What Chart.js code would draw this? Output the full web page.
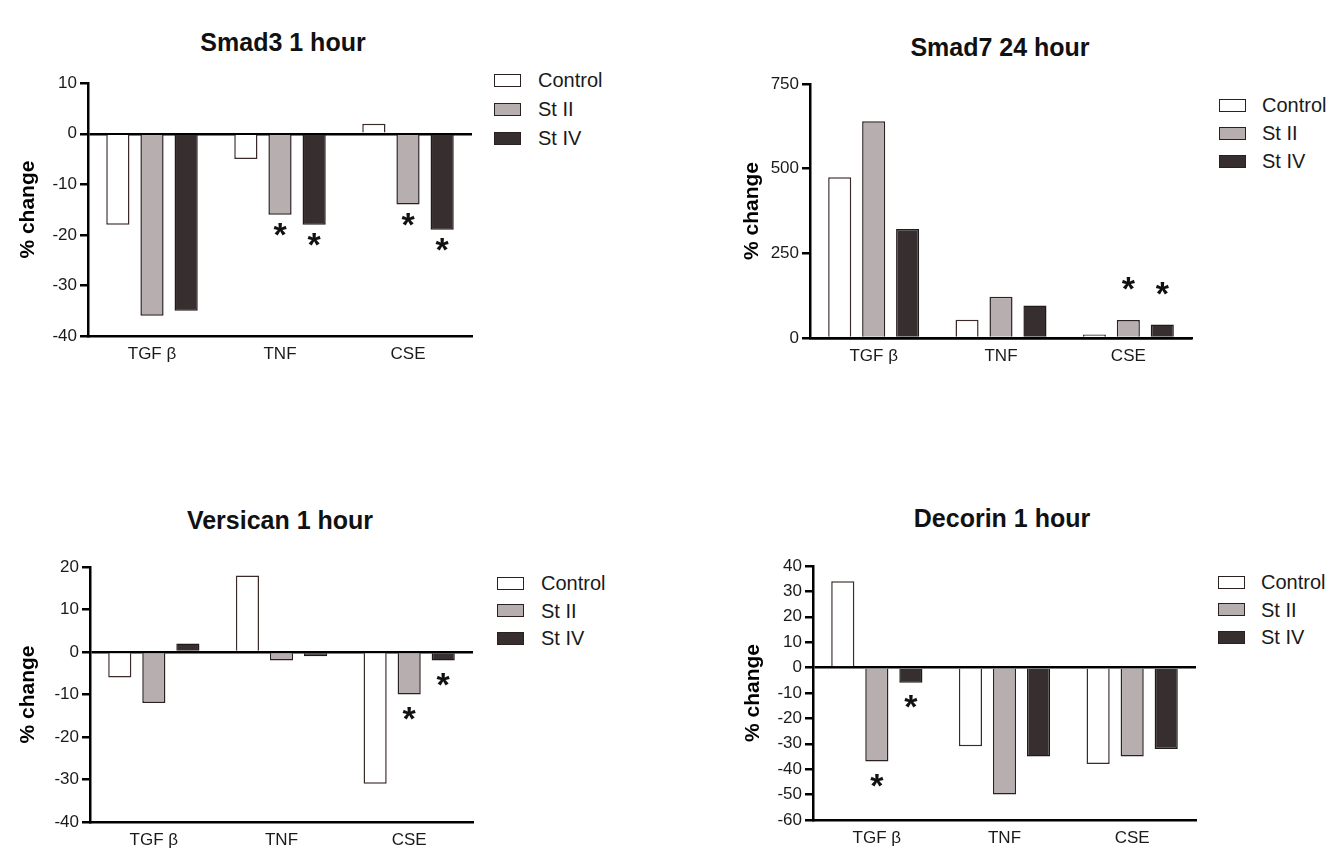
<!DOCTYPE html>
<html>
<head>
<meta charset="utf-8">
<title>Smad3 / Smad7 / Versican / Decorin</title>
<script src="https://cdn.jsdelivr.net/npm/chart.js@4.4.1/dist/chart.umd.min.js"></script>
<style>
    body {
        margin: 0;
        width: 1344px;
        height: 852px;
        position: relative;
        overflow: hidden;
        background: #ffffff;
        font-family: "Liberation Sans", Arial, sans-serif;
    }
    .panel-title {
        position: absolute;
        width: 400px;
        text-align: center;
        font-weight: bold;
        font-size: 25px;
        line-height: 28px;
        color: #111;
    }
    .legend-box {
        position: absolute;
        width: 27px;
        height: 13px;
        box-sizing: border-box;
        border: 1.5px solid #2a2020;
    }
    .legend-label {
        position: absolute;
        font-size: 20px;
        line-height: 22px;
        color: #1a1a1a;
        white-space: nowrap;
    }
</style>
</head>
<body>
<script>
    // Categorias e séries (comuns aos quatro painéis)
    const groups = ['TGF β', 'TNF', 'CSE'];
    const seriesNames = ['Control', 'St II', 'St IV'];

    // Smad3 1 hour
    const smad3Control = [-18, -5, 2];
    const smad3StII = [-36, -16, -14];
    const smad3StIV = [-35, -18, -19];
    const smad3Stars = [[0, 0, 0], [0, 1, 1], [0, 1, 1]];
    const smad3Ticks = [10, 0, -10, -20, -30, -40];

    // Smad7 24 hour
    const smad7Control = [475, 54, 10];
    const smad7StII = [640, 122, 53];
    const smad7StIV = [322, 96, 40];
    const smad7Stars = [[0, 0, 0], [0, 0, 1], [0, 0, 1]];
    const smad7Ticks = [750, 500, 250, 0];

    // Versican 1 hour
    const versicanControl = [-6, 18, -31];
    const versicanStII = [-12, -2, -10];
    const versicanStIV = [2, -1, -2];
    const versicanStars = [[0, 0, 0], [0, 0, 1], [0, 0, 1]];
    const versicanTicks = [20, 10, 0, -10, -20, -30, -40];

    // Decorin 1 hour
    const decorinControl = [34, -31, -38];
    const decorinStII = [-37, -50, -35];
    const decorinStIV = [-6, -35, -32];
    const decorinStars = [[0, 0, 0], [1, 0, 0], [1, 0, 0]];
    const decorinTicks = [40, 30, 20, 10, 0, -10, -20, -30, -40, -50, -60];

    // Estilos
    const seriesFill = ['#ffffff', '#b7afaf', '#372f2f'];
    const seriesBorder = ['#3a2a2a', '#2a2222', '#1f1a1a'];
    const fontFamily = '"Liberation Sans", Arial, sans-serif';
    Chart.defaults.font.family = fontFamily;

    // Layout de cada painel (posições em pixels da página)
    const panels = [
        {
            title: 'Smad3 1 hour', titlePos: { x: 283, y: 42 },
            values: [smad3Control, smad3StII, smad3StIV], stars: smad3Stars, ticks: smad3Ticks,
            box: { left: 0, top: 70, width: 480, height: 300 },
            area: { left: 88, top: 82, right: 472, bottom: 336 },
            yTitleX: 28, starGap: 16,
            legend: { x: 494, y: 80, textX: 538, step: 29 }
        },
        {
            title: 'Smad7 24 hour', titlePos: { x: 1000, y: 47 },
            values: [smad7Control, smad7StII, smad7StIV], stars: smad7Stars, ticks: smad7Ticks,
            box: { left: 700, top: 70, width: 500, height: 300 },
            area: { left: 810, top: 84, right: 1192, bottom: 338 },
            yTitleX: 752, starGap: 35,
            legend: { x: 1219, y: 105, textX: 1262, step: 28 }
        },
        {
            title: 'Versican 1 hour', titlePos: { x: 280, y: 520 },
            values: [versicanControl, versicanStII, versicanStIV], stars: versicanStars, ticks: versicanTicks,
            box: { left: 0, top: 550, width: 480, height: 302 },
            area: { left: 90, top: 567, right: 473, bottom: 822 },
            yTitleX: 28, starGap: 20,
            legend: { x: 497, y: 583, textX: 541, step: 27.5 }
        },
        {
            title: 'Decorin 1 hour', titlePos: { x: 1002, y: 518 },
            values: [decorinControl, decorinStII, decorinStIV], stars: decorinStars, ticks: decorinTicks,
            box: { left: 700, top: 550, width: 500, height: 302 },
            area: { left: 813, top: 566, right: 1196, bottom: 820 },
            yTitleX: 753, starGap: 20,
            legend: { x: 1218, y: 582, textX: 1261, step: 27.5 }
        }
    ];

    // Asteriscos de significância, posicionados a partir das barras
    const sigStarsPlugin = {
        id: 'sigStars',
        afterDatasetsDraw(chart, args, opts) {
            const ctx = chart.ctx;
            const size = 34;
            ctx.save();
            ctx.fillStyle = '#111';
            ctx.font = 'bold ' + size + 'px ' + fontFamily;
            ctx.textAlign = 'center';
            ctx.textBaseline = 'alphabetic';
            chart.data.datasets.forEach((ds, i) => {
                const meta = chart.getDatasetMeta(i);
                ds.stars.forEach((flag, j) => {
                    if (!flag) return;
                    const bar = meta.data[j];
                    const dir = ds.data[j] < 0 ? 1 : -1;
                    const cy = bar.y + dir * opts.gap;
                    ctx.fillText('*', bar.x, cy + 0.45 * size);
                });
            });
            ctx.restore();
        }
    };

    panels.forEach(makePanel);

    function makePanel(p) {
        makeTitle(p);
        makeLegend(p);
        makeChart(p);
    }

    function makeTitle(p) {
        const t = document.createElement('div');
        t.className = 'panel-title';
        t.textContent = p.title;
        t.style.left = (p.titlePos.x - 200) + 'px';
        t.style.top = (p.titlePos.y - 14) + 'px';
        document.body.appendChild(t);
    }

    function makeLegend(p) {
        seriesNames.forEach((name, i) => {
            const cy = p.legend.y + i * p.legend.step;
            const box = document.createElement('div');
            box.className = 'legend-box';
            box.style.left = p.legend.x + 'px';
            box.style.top = (cy - 6.5) + 'px';
            box.style.background = seriesFill[i];
            const label = document.createElement('div');
            label.className = 'legend-label';
            label.textContent = name;
            label.style.left = p.legend.textX + 'px';
            label.style.top = (cy - 11) + 'px';
            document.body.append(box, label);
        });
    }

    function makeChart(p) {
        const wrap = document.createElement('div');
        wrap.style.cssText = 'position:absolute;left:' + p.box.left + 'px;top:' + p.box.top +
            'px;width:' + p.box.width + 'px;height:' + p.box.height + 'px;';
        const canvas = document.createElement('canvas');
        wrap.appendChild(canvas);
        document.body.appendChild(wrap);

        // área do gráfico em coordenadas do canvas
        const a = {
            left: p.area.left - p.box.left,
            top: p.area.top - p.box.top,
            right: p.area.right - p.box.left,
            bottom: p.area.bottom - p.box.top
        };
        const tickValues = p.ticks.slice().sort((x, y) => x - y);

        new Chart(canvas, {
            type: 'bar',
            data: {
                labels: groups,
                datasets: seriesNames.map((name, i) => ({
                    label: name,
                    data: p.values[i],
                    stars: p.stars[i],
                    backgroundColor: seriesFill[i],
                    borderColor: seriesBorder[i],
                    borderWidth: 1.5,
                    categoryPercentage: 0.8,
                    barPercentage: 0.68
                }))
            },
            options: {
                responsive: true,
                maintainAspectRatio: false,
                animation: false,
                layout: {
                    padding: { left: 0, top: a.top, right: p.box.width - a.right, bottom: 0 }
                },
                plugins: {
                    legend: { display: false },
                    tooltip: { enabled: false },
                    title: { display: false },
                    sigStars: { gap: p.starGap }
                },
                scales: {
                    x: {
                        z: 1,
                        grid: { display: false, drawTicks: false },
                        border: { display: true, color: '#000', width: 2.5 },
                        ticks: { color: '#1a1a1a', font: { size: 17 }, padding: 8, maxRotation: 0 },
                        afterFit: s => { s.height = p.box.height - a.bottom; }
                    },
                    y: {
                        z: 1,
                        min: tickValues[0],
                        max: tickValues[tickValues.length - 1],
                        afterBuildTicks: s => { s.ticks = tickValues.map(v => ({ value: v })); },
                        grid: {
                            drawOnChartArea: true,
                            drawTicks: true,
                            color: c => (c.tick && c.tick.value === 0) ? '#000' : 'rgba(0,0,0,0)',
                            lineWidth: 2.5,
                            tickColor: '#000',
                            tickWidth: 2.5,
                            tickLength: 8
                        },
                        border: { color: '#000', width: 2.5 },
                        ticks: { color: '#1a1a1a', font: { size: 17 }, padding: 3 },
                        title: {
                            display: true,
                            text: '% change',
                            color: '#000',
                            font: { size: 21, weight: 'bold' },
                            padding: { top: (p.yTitleX - p.box.left) - 12.6, bottom: 0 }
                        },
                        afterFit: s => { s.width = a.left; }
                    }
                }
            },
            plugins: [sigStarsPlugin]
        });
    }
</script>
</body>
</html>
